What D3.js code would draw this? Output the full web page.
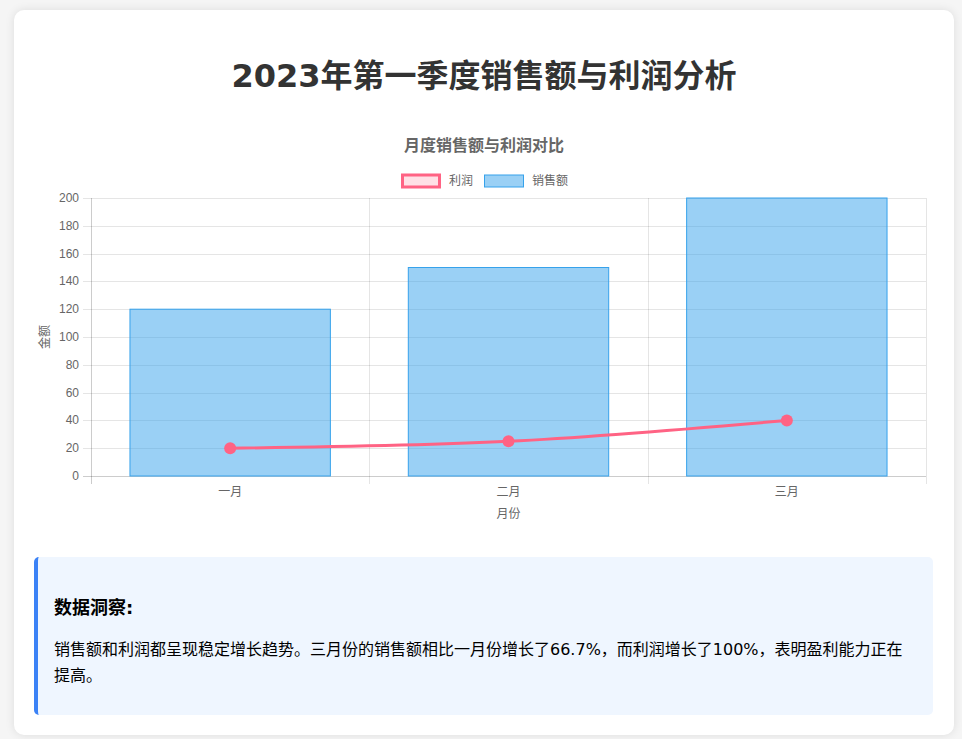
<!DOCTYPE html>
<html>
<head>
<meta charset="utf-8">
<script src="https://cdn.jsdelivr.net/npm/d3@7"></script>
<style>
  body {
    margin: 0;
    background: #f5f5f5;
    font-family: "DejaVu Sans", "Noto Sans CJK SC", sans-serif;
  }
  .card {
    position: absolute;
    left: 14px;
    top: 10px;
    width: 940px;
    height: 725px;
    background: #fff;
    border-radius: 10px;
    box-shadow: 0 0 10px rgba(0,0,0,0.1);
  }
  h1 {
    position: absolute;
    left: 0;
    width: 940px;
    top: 44px;
    margin: 0;
    text-align: center;
    font-size: 32px;
    line-height: 44px;
    color: #333;
  }
  #chart {
    position: absolute;
    left: 0;
    top: 0;
  }
  .insight {
    position: absolute;
    left: 34px;
    top: 557px;
    width: 879px;
    height: 158px;
    background: #eff6ff;
    border-left: 4px solid #3b82f6;
    border-radius: 5px;
    padding: 0 0 0 16px;
    box-sizing: content-box;
  }
  .insight h3 {
    margin: 0;
    position: absolute;
    top: 36px;
    left: 16px;
    font-size: 18px;
    color: #000;
  }
  .insight p {
    margin: 0;
    position: absolute;
    top: 80px;
    left: 16px;
    width: 860px;
    font-size: 16px;
    line-height: 26px;
    color: #000;
  }
</style>
</head>
<body>
<div class="card">
  <h1>2023年第一季度销售额与利润分析</h1>
</div>
<svg id="chart" width="962" height="540"></svg>
<div class="insight">
  <h3>数据洞察:</h3>
  <p>销售额和利润都呈现稳定增长趋势。三月份的销售额相比一月份增长了66.7%，而利润增长了100%，表明盈利能力正在提高。</p>
</div>
<script>
var months = ["一月", "二月", "三月"];
var sales = [120, 150, 200];
var profit = [20, 25, 40];
var yTicks = [0, 20, 40, 60, 80, 100, 120, 140, 160, 180, 200];

var margin = {top: 198, right: 36, bottom: 64, left: 91};
var svgWidth = 962, svgHeight = 540;
var width = svgWidth - margin.left - margin.right;
var height = svgHeight - margin.top - margin.bottom;

var svg = d3.select("#chart");
var chartFont = "'Liberation Sans', 'Noto Sans CJK SC', sans-serif";

// chart title, centred on the card like the canvas
svg.append("text")
  .attr("x", 484)
  .attr("y", 151)
  .attr("text-anchor", "middle")
  .attr("font-family", chartFont)
  .attr("font-size", 16)
  .attr("font-weight", "bold")
  .attr("fill", "#666")
  .text("月度销售额与利润对比");

// legend
var legend = [
  {name: "利润", fill: "rgba(255,99,132,0.2)", stroke: "rgb(255,99,132)", sw: 3, x: 401},
  {name: "销售额", fill: "rgba(54,162,235,0.5)", stroke: "rgb(54,162,235)", sw: 1, x: 484}
];
var lg = svg.append("g").selectAll("g").data(legend).enter().append("g");
lg.append("rect")
  .attr("x", d => d.x + d.sw / 2)
  .attr("y", 175)
  .attr("width", d => 40 - d.sw)
  .attr("height", 12)
  .attr("fill", d => d.fill)
  .attr("stroke", d => d.stroke)
  .attr("stroke-width", d => d.sw);
lg.append("text")
  .attr("x", d => d.x + 48)
  .attr("y", 185)
  .attr("font-family", chartFont)
  .attr("font-size", 12)
  .attr("fill", "#666")
  .text(d => d.name);

var chartGroup = svg.append("g")
  .attr("transform", `translate(${margin.left}, ${margin.top})`);

var x = d3.scaleBand().domain(months).range([0, width]).paddingInner(0).paddingOuter(0);
var y = d3.scaleLinear().domain([0, 200]).range([height, 0]);

// horizontal grid
chartGroup.append("g").selectAll("line")
  .data(yTicks)
  .enter().append("line")
  .attr("x1", -8)
  .attr("x2", width)
  .attr("y1", d => Math.round(y(d)) + 0.5)
  .attr("y2", d => Math.round(y(d)) + 0.5)
  .attr("stroke", d => d === 0 ? "rgba(0,0,0,0.2)" : "rgba(0,0,0,0.1)");

// vertical grid
var bounds = [0, 1, 2, 3].map(i => i * x.step());
chartGroup.append("g").selectAll("line")
  .data(bounds)
  .enter().append("line")
  .attr("x1", d => Math.round(d) + 0.5)
  .attr("x2", d => Math.round(d) + 0.5)
  .attr("y1", 0)
  .attr("y2", height + 8)
  .attr("stroke", (d, i) => i === 0 ? "rgba(0,0,0,0.2)" : "rgba(0,0,0,0.1)");

// y tick labels
chartGroup.append("g").selectAll("text")
  .data(yTicks)
  .enter().append("text")
  .attr("x", -12)
  .attr("y", d => y(d) + 4)
  .attr("text-anchor", "end")
  .attr("font-family", chartFont)
  .attr("font-size", 12)
  .attr("fill", "#666")
  .text(d => d);

// x tick labels
chartGroup.append("g").selectAll("text")
  .data(months)
  .enter().append("text")
  .attr("x", d => x(d) + x.bandwidth() / 2)
  .attr("y", height + 20)
  .attr("text-anchor", "middle")
  .attr("font-family", chartFont)
  .attr("font-size", 12)
  .attr("fill", "#666")
  .text(d => d);

// axis titles
chartGroup.append("text")
  .attr("x", width / 2)
  .attr("y", height + 42)
  .attr("text-anchor", "middle")
  .attr("font-family", chartFont)
  .attr("font-size", 12)
  .attr("fill", "#666")
  .text("月份");

chartGroup.append("text")
  .attr("transform", "rotate(-90)")
  .attr("x", -height / 2)
  .attr("y", -42)
  .attr("text-anchor", "middle")
  .attr("font-family", chartFont)
  .attr("font-size", 12)
  .attr("fill", "#666")
  .text("金额");

// bars
var barW = x.step() * 0.72;
chartGroup.append("g").selectAll("rect")
  .data(months)
  .enter().append("rect")
  .attr("x", d => x(d) + (x.step() - barW) / 2)
  .attr("y", (d, i) => y(sales[i]))
  .attr("width", barW)
  .attr("height", (d, i) => height - y(sales[i]))
  .attr("fill", "rgba(54,162,235,0.5)")
  .attr("stroke", "rgb(54,162,235)")
  .attr("stroke-width", 1);

// profit line
var pts = months.map((m, i) => [x(m) + x.bandwidth() / 2, y(profit[i])]);
chartGroup.append("path")
  .attr("d", d3.line().curve(d3.curveMonotoneX)(pts))
  .attr("fill", "none")
  .attr("stroke", "rgb(255,99,132)")
  .attr("stroke-width", 3);

chartGroup.append("g").selectAll("circle")
  .data(pts)
  .enter().append("circle")
  .attr("cx", d => d[0])
  .attr("cy", d => d[1])
  .attr("r", 6)
  .attr("fill", "rgb(255,99,132)");
</script>
</body>
</html>
